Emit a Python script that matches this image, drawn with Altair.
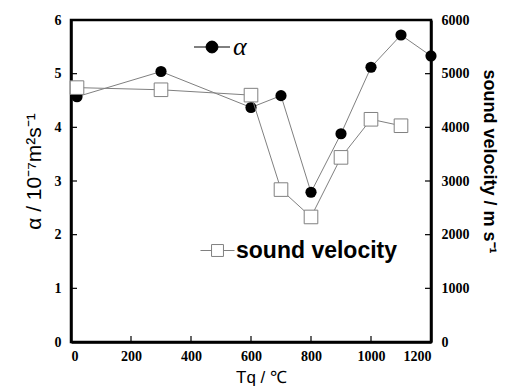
import altair as alt
import pandas as pd

tq = [20, 300, 600, 700, 800, 900, 1000, 1100, 1200]
alpha = [4.57, 5.04, 4.37, 4.59, 2.79, 3.88, 5.12, 5.72, 5.33]
tq_sv = [20, 300, 600, 700, 800, 900, 1000, 1100]
sound = [4740, 4700, 4600, 2840, 2330, 3440, 4150, 4030]

x_ticks = [0, 200, 400, 600, 800, 1000, 1200]
a_ticks = [0, 1, 2, 3, 4, 5, 6]
s_ticks = [0, 1000, 2000, 3000, 4000, 5000, 6000]

W, H = 360, 322
TICK = 6

df_a = pd.DataFrame({"Tq": tq, "alpha": alpha, "series": ["α"] * len(tq)})
df_s = pd.DataFrame({"Tq": tq_sv, "sound": sound, "series": ["sound velocity"] * len(tq_sv)})
df_xt = pd.DataFrame({"Tq": x_ticks})
df_at = pd.DataFrame({"alpha": a_ticks})
df_st = pd.DataFrame({"sound": s_ticks})

tick_font = "Liberation Sans Narrow"
line_gray = "#808080"

xscale = alt.Scale(domain=[0, 1200], nice=False)
xaxis = alt.Axis(
    values=x_ticks, format="d", title="Tq / ℃",
    titleFont="Liberation Sans", titleFontWeight="normal", titleFontSize=17, titlePadding=6,
    titleX=190, labelFont=tick_font, labelFontWeight="bold", labelFontSize=14, labelPadding=7,
    tickSize=0, domain=True, domainColor="black", domainWidth=2.5, grid=False,
)
ascale = alt.Scale(domain=[0, 6], nice=False)
aaxis = alt.Axis(values=a_ticks, format="d", title="α / 10⁻⁷m²s⁻¹",
                 titleFont="Liberation Sans", titleFontWeight="normal", titleFontSize=21,
                 titlePadding=10, titleY=151, labelFont=tick_font, labelFontWeight="bold",
                 labelFontSize=14, labelPadding=10, tickSize=0, domain=True,
                 domainColor="black", domainWidth=2.5, grid=False)
sscale = alt.Scale(domain=[0, 6000], nice=False)
saxis = alt.Axis(orient="right", values=s_ticks, format="d", title="sound velocity / m s⁻¹",
                 titleFont="Liberation Sans", titleFontWeight="bold", titleFontSize=18,
                 titlePadding=10, titleY=141, labelFont=tick_font, labelFontWeight="bold",
                 labelFontSize=14, labelPadding=10, tickSize=0, domain=True,
                 domainColor="black", domainWidth=2.5, grid=False)

a_line = alt.Chart(df_a).mark_line(color=line_gray, strokeWidth=1).encode(
    x=alt.X("Tq:Q", scale=xscale, axis=xaxis),
    y=alt.Y("alpha:Q", scale=ascale, axis=aaxis),
)
a_pts = alt.Chart(df_a).mark_point(filled=True, shape="circle", size=125, opacity=1).encode(
    x=alt.X("Tq:Q", scale=xscale),
    y=alt.Y("alpha:Q"),
    color=alt.Color("series:N", scale=alt.Scale(domain=["α"], range=["black"]),
                    legend=alt.Legend(orient="none", legendX=128, legendY=14, title=None,
                                      symbolType="M-2,0H-0.66M0.66,0H2M-0.66,0A0.66,0.66 0 1,0 0.66,0A0.66,0.66 0 1,0 -0.66,0Z",
                                      symbolSize=324, symbolStrokeWidth=1,
                                      symbolStrokeColor="black", symbolFillColor="black",
                                      labelFont="Liberation Serif", labelFontStyle="italic",
                                      labelFontSize=26, labelOffset=8, labelLimit=300)),
)
x_tick_marks = alt.Chart(df_xt).mark_rule(color="black", strokeWidth=1.2).encode(
    x=alt.X("Tq:Q", scale=xscale), y=alt.value(H), y2=alt.value(H - TICK)
)
a_tick_marks = alt.Chart(df_at).mark_rule(color="black", strokeWidth=1.2).encode(
    y=alt.Y("alpha:Q", scale=ascale), x=alt.value(0), x2=alt.value(TICK)
)
alpha_layer = alt.layer(a_line, x_tick_marks, a_tick_marks, a_pts)

s_line = alt.Chart(df_s).mark_line(color=line_gray, strokeWidth=1).encode(
    x=alt.X("Tq:Q", scale=xscale),
    y=alt.Y("sound:Q", scale=sscale, axis=saxis),
)
s_pts = alt.Chart(df_s).mark_point(shape="square", size=185, fill="white", opacity=1,
                                   strokeWidth=1).encode(
    x=alt.X("Tq:Q", scale=xscale),
    y=alt.Y("sound:Q"),
    stroke=alt.Stroke("series:N", scale=alt.Scale(domain=["sound velocity"], range=[line_gray]),
                      legend=alt.Legend(orient="none", legendX=135, legendY=219, title=None,
                                        symbolType="M-2,0H-0.7M0.7,0H2M-0.7,-0.7H0.7V0.7H-0.7Z",
                                        symbolSize=290, symbolStrokeWidth=1,
                                        symbolFillColor="white", symbolStrokeColor=line_gray,
                                        labelFont="Liberation Sans", labelFontWeight="bold",
                                        labelFontSize=23, labelColor="black", labelOffset=7,
                                        labelLimit=400)),
)
s_tick_marks = alt.Chart(df_st).mark_rule(color="black", strokeWidth=1.2).encode(
    y=alt.Y("sound:Q", scale=sscale), x=alt.value(W), x2=alt.value(W - TICK)
)
sound_layer = alt.layer(s_line, s_tick_marks, s_pts)

chart = alt.layer(alpha_layer, sound_layer).resolve_scale(
    y="independent", color="independent", stroke="independent"
).properties(
    width=W, height=H, background="white",
    autosize=alt.AutoSizeParams(type="none"),
    padding={"left": 63, "top": 12, "right": 76, "bottom": 45},
).configure_view(stroke="black", strokeWidth=2.5)

chart.save("out.html", embed_options={"renderer": "svg", "actions": False})
